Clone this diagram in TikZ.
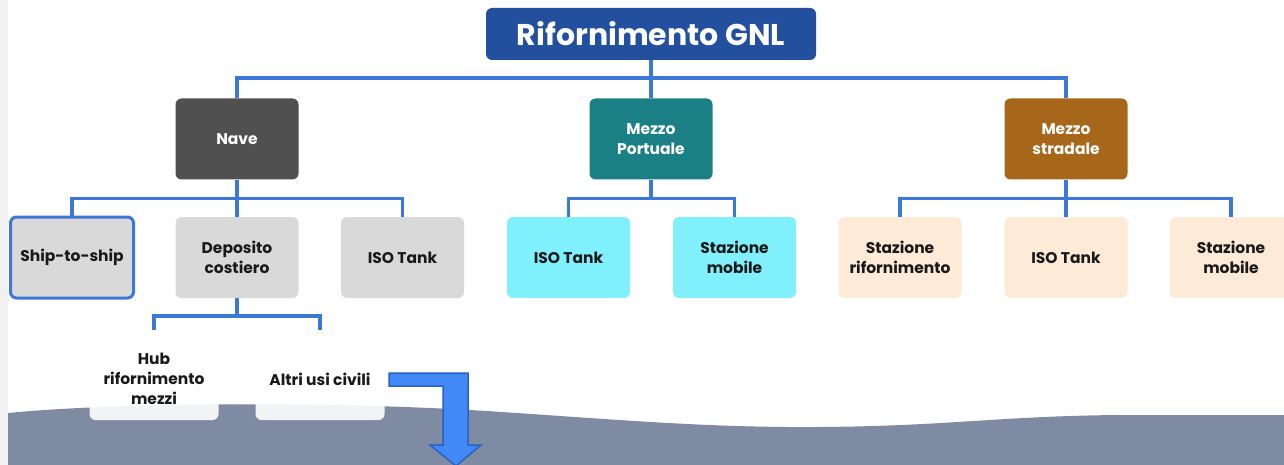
\documentclass[tikz,border=0pt]{standalone}
\usepackage{fontspec}
\setmainfont{Poppins}
\definecolor{titleblue}{HTML}{22509F}
\definecolor{navegray}{HTML}{505050}
\definecolor{portteal}{HTML}{1B7F86}
\definecolor{stradbrown}{HTML}{A7671B}
\definecolor{boxgray}{HTML}{D9D9D9}
\definecolor{boxcyan}{HTML}{80F0FD}
\definecolor{boxpeach}{HTML}{FDEBD8}
\definecolor{linkblue}{HTML}{3B78D8}
\definecolor{wavegray}{HTML}{7F8AA3}
\definecolor{arrowfill}{HTML}{4189F6}
\definecolor{arrowdraw}{HTML}{2A62C4}
\definecolor{stripgray}{HTML}{F1F1F1}
\begin{document}
\begin{tikzpicture}[x=1pt,y=-1pt,
    box/.style={rounded corners=6pt,minimum width=123pt,minimum height=81pt,
      inner sep=0pt,align=center,text=black!90,font=\fontsize{15.5}{20}\selectfont\bfseries},
    catbox/.style={box,text=white},
    leafbox/.style={box,fill=white,fill opacity=0.9,text opacity=1,minimum width=129pt,minimum height=82pt},
    link/.style={draw=linkblue,line width=3.5pt}]
    \useasboundingbox (0,0) rectangle (1284,465);
    % 底部波浪
    \fill[wavegray] (8,413) .. controls (120,402) and (330,402) .. (470,410)
      .. controls (600,418) and (700,428) .. (820,427)
      .. controls (950,426) and (1000,416) .. (1120,415)
      -- (1284,415) -- (1284,465) -- (8,465) -- cycle;
    \fill[stripgray] (0,0) rectangle (8,465);
    % 标题
    \node[box,fill=titleblue,text=white,minimum width=330pt,minimum height=52pt,
      font=\fontsize{30}{32}\selectfont\bfseries] (title) at (651,34) {Rifornimento GNL};
    % 第一层
    \node[catbox,fill=navegray] (nave) at (237,139) {Nave};
    \node[catbox,fill=portteal] (port) at (651,139) {Mezzo\\Portuale};
    \node[catbox,fill=stradbrown] (strad) at (1066,139) {Mezzo\\stradale};
    % 第二层
    \node[box,fill=boxgray,draw=linkblue,line width=3pt] (sts) at (72,257.5) {Ship-to-ship};
    \node[box,fill=boxgray] (depo) at (237,257.5) {Deposito\\costiero};
    \node[box,fill=boxgray] (isoa) at (402.5,257.5) {ISO Tank};
    \node[box,fill=boxcyan] (isob) at (568.5,257.5) {ISO Tank};
    \node[box,fill=boxcyan] (stazb) at (734.5,257.5) {Stazione\\mobile};
    \node[box,fill=boxpeach] (stazc) at (900,257.5) {Stazione\\rifornimento};
    \node[box,fill=boxpeach] (isoc) at (1066,257.5) {ISO Tank};
    \node[box,fill=boxpeach] (stazd) at (1231,257.5) {Stazione\\mobile};
    % 第三层
    \node[leafbox] (hub) at (154,379) {Hub\\rifornimento\\mezzi};
    \node[leafbox] (altri) at (320,379) {Altri usi civili};
    % 连线
    \draw[link] (title.south) -- ++(0,18) coordinate (t1);
    \draw[link] (nave.north) |- (t1) -| (strad.north);
    \draw[link] (t1) -- (port.north);
    \draw[link] (nave.south) -- ++(0,19) coordinate (n1);
    \draw[link] (sts.north) |- (n1) -| (isoa.north);
    \draw[link] (n1) -- (depo.north);
    \draw[link] (port.south) -- ++(0,19) coordinate (p1);
    \draw[link] (isob.north) |- (p1) -| (stazb.north);
    \draw[link] (strad.south) -- ++(0,19) coordinate (s1);
    \draw[link] (stazc.north) |- (s1) -| (stazd.north);
    \draw[link] (s1) -- (isoc.north);
    \draw[link] (depo.south) -- ++(0,18) coordinate (d1);
    \draw[link] ([yshift=8pt]hub.north) |- (d1) -| ([yshift=8pt]altri.north);
    % 弯箭头
    \draw[fill=arrowfill,draw=arrowdraw,line width=1.5pt,line join=miter]
      (389,373) -- (468,373) -- (468,445) -- (481,445) -- (456,466)
      -- (430,445) -- (443,445) -- (443,386) -- (389,386) -- cycle;
\end{tikzpicture}
\end{document}
